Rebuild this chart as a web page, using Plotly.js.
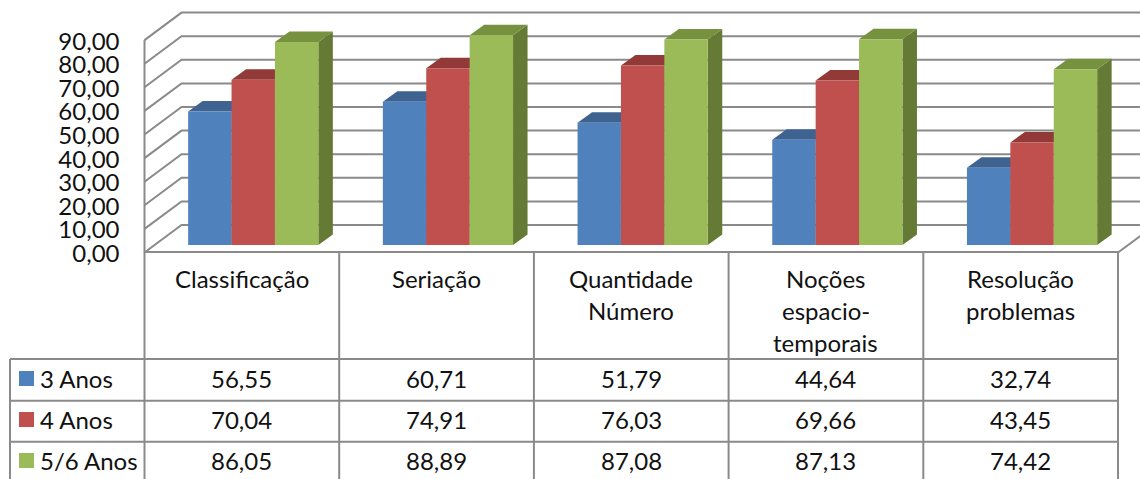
<!DOCTYPE html>
<html>
<head>
<meta charset="utf-8">
<script src="https://cdn.plot.ly/plotly-3.0.1.min.js"></script>
<style>html,body{margin:0;padding:0;background:#fff}#c{width:1140px;height:479px}</style>
</head>
<body>
<div id="c"></div>
<script>
const categories = ["Classificação", "Seriação", "Quantidade<br>Número", "Noções<br>espacio-<br>temporais", "Resolução<br>problemas"];
const seriesNames = ["3 Anos", "4 Anos", "5/6 Anos"];
const anos3 = [56.55, 60.71, 51.79, 44.64, 32.74];
const anos4 = [70.04, 74.91, 76.03, 69.66, 43.45];
const anos56 = [86.05, 88.89, 87.08, 87.13, 74.42];
const tickValues = [0, 10, 20, 30, 40, 50, 60, 70, 80, 90];
const frontColors = ["#4F81BD", "#C0504D", "#9BBB59"];
const topColors = ["#3E6391", "#923A38", "#76923F"];
const sideColors = ["#324F74", "#753130", "#647A35"];

const W = 1140, H = 479;
const seriesValues = [anos3, anos4, anos56];
const pxPerCat = 194.7, pxPerVal = 2.36;
const originX = 144.5, originY = 252.5;
const dx = px => px / pxPerCat, dy = px => px / pxPerVal;
const fmt = v => v.toFixed(2).replace(".", ",");
const xRange = [-originX / pxPerCat, (W - originX) / pxPerCat];
const yRange = [-(H - originY) / pxPerVal, originY / pxPerVal];
const barLift = dy(7.5), barShift = dx(11.4), barW = dx(43.4);
const depthX = dx(14.5), depthY = dy(10.5), wallX = dx(37), wallY = dy(27.5);
const ncat = categories.length;

// walls and floor
const gx = [], gy = [];
tickValues.forEach(t => {
  gx.push(0, wallX, xRange[1] + 0.2, null);
  gy.push(t, t + wallY, t + wallY, null);
});
gx.push(0, 0, null, ncat, ncat + wallX, null);
gy.push(0, tickValues[tickValues.length - 1], null, 0, wallY, null);

const traces = [{
  x: gx, y: gy, mode: "lines", line: {color: "#8A8A8A", width: 2},
  hoverinfo: "skip", showlegend: false, cliponaxis: true
}];

// bar depth faces
seriesValues.forEach((vals, s) => {
  const tx = [], ty = [], sx = [], sy = [];
  vals.forEach((v, i) => {
    const l = i + 0.5 + barShift + (s - 1.5) * barW, r = l + barW;
    const top = v + barLift, base = barLift;
    tx.push(l, r, r + depthX, l + depthX, l, null);
    ty.push(top, top, top + depthY, top + depthY, top, null);
    sx.push(r, r + depthX, r + depthX, r, r, null);
    sy.push(base, base + depthY, top + depthY, top, base, null);
  });
  traces.push({x: sx, y: sy, mode: "lines", line: {width: 0, color: sideColors[s]}, fill: "toself", fillcolor: sideColors[s], hoverinfo: "skip", showlegend: false});
  traces.push({x: tx, y: ty, mode: "lines", line: {width: 0, color: topColors[s]}, fill: "toself", fillcolor: topColors[s], hoverinfo: "skip", showlegend: false});
});

// front faces, on an overlay lifted to the bars' floor line
const catPos = categories.map((c, i) => i + 0.5 + barShift);
seriesValues.forEach((vals, s) => {
  traces.push({
    type: "bar", x: catPos, y: vals, name: seriesNames[s], xaxis: "x2", yaxis: "y2",
    width: barW, offset: (s - 1.5) * barW,
    marker: {color: frontColors[s], line: {width: 0}}, showlegend: false,
    hovertemplate: seriesNames[s] + ": %{y:.2f}<extra></extra>"
  });
});

// data table
const font = {family: "Lato, Carlito, Calibri, sans-serif", size: 24, color: "#111"};
const paperX = px => px / W, paperY = py => 1 - py / H;
const rowY = [378, 419, 460], rowLines = [359, 400.7, 441.7];
const lineStyle = {color: "#8A8A8A", width: 2};
const shapes = [], annotations = [];
for (let i = 0; i <= ncat; i++) {
  shapes.push({type: "line", xref: "x", yref: "paper", x0: i, x1: i, y0: paperY(252), y1: 0, line: lineStyle, layer: "above"});
}
shapes.push({type: "line", xref: "x", yref: "paper", x0: 0, x1: ncat, y0: paperY(252), y1: paperY(252), line: lineStyle});
rowLines.forEach(y => shapes.push({type: "line", xref: "paper", yref: "paper", x0: paperX(10), x1: (originX + ncat * pxPerCat) / W, y0: paperY(y), y1: paperY(y), line: lineStyle}));
shapes.push({type: "line", xref: "paper", yref: "paper", x0: paperX(10), x1: paperX(10), y0: paperY(359), y1: 0, line: lineStyle});

const note = (text, px, py, xanchor, xref) => annotations.push({
  text, x: xref === "x" ? px : paperX(px), y: paperY(py), xref: xref || "paper", yref: "paper",
  xanchor: xanchor || "center", yanchor: "middle", showarrow: false, font
});
categories.forEach((c, i) => {
  c.split("<br>").forEach((line, k) => note(line, i + 0.5, 278 + k * 32.2, "center", "x"));
});
seriesValues.forEach((vals, s) => {
  shapes.push({type: "rect", xref: "paper", yref: "paper", x0: paperX(19), x1: paperX(34), y0: paperY(rowY[s] - 7), y1: paperY(rowY[s] + 8), fillcolor: frontColors[s], line: {width: 0}});
  note(seriesNames[s], 38, rowY[s], "left");
  vals.forEach((v, i) => note(fmt(v), i + 0.5, rowY[s], "center", "x"));
});

const layout = {
  width: W, height: H, margin: {l: 0, r: 0, t: 0, b: 0},
  paper_bgcolor: "#fff", plot_bgcolor: "#fff", showlegend: false,
  barmode: "overlay",
  xaxis: {range: xRange, visible: false, fixedrange: true},
  yaxis: {
    range: yRange, anchor: "free", position: originX / W, showgrid: false, zeroline: false, showline: false,
    tickmode: "array", tickvals: tickValues, ticktext: tickValues.map(fmt), ticks: "",
    ticklabelstandoff: 25, ticklabelshift: 1, tickfont: {family: font.family, size: 24, color: "#111"}, fixedrange: true
  },
  xaxis2: {range: xRange, overlaying: "x", visible: false, fixedrange: true},
  yaxis2: {range: [yRange[0] - barLift, yRange[1] - barLift], overlaying: "y", visible: false, fixedrange: true},
  shapes, annotations
};
Plotly.newPlot("c", traces, layout, {displayModeBar: false, staticPlot: true});
</script>
</body>
</html>
